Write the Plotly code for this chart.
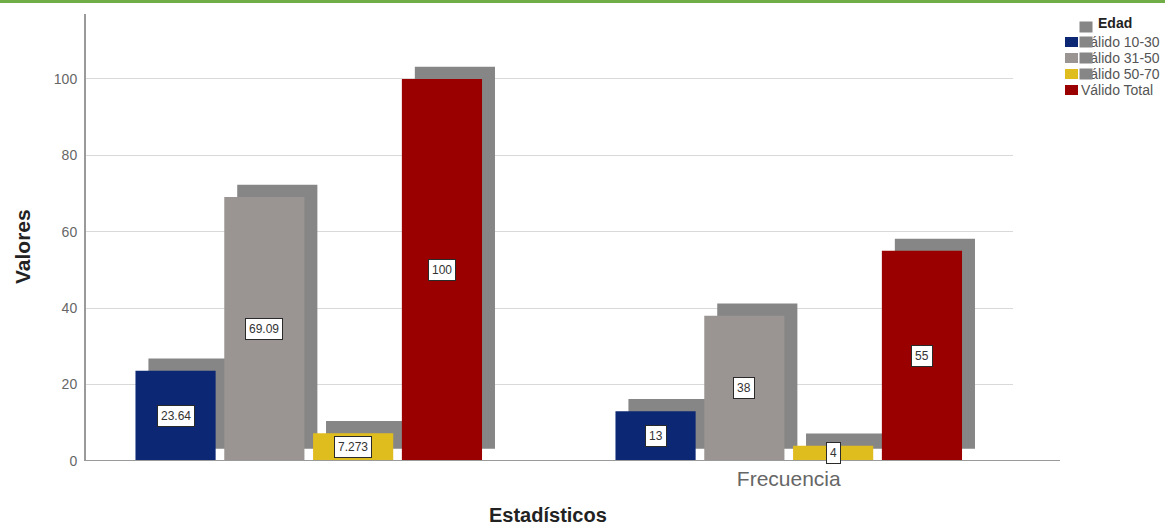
import plotly.graph_objects as go

# ---- data ----
categories = ["Porcentaje", "Frecuencia"]
tick_labels = ["", "Frecuencia"]
series_names = ["Válido 10-30", "Válido 31-50", "Válido 50-70", "Válido Total"]
values_porcentaje = [23.64, 69.09, 7.273, 100]
values_frecuencia = [13, 38, 4, 55]
label_porcentaje = ["23.64", "69.09", "7.273", "100"]
label_frecuencia = ["13", "38", "4", "55"]
y_ticks = [0, 20, 40, 60, 80, 100]
legend_title = "Edad"
x_title = "Estadísticos"
y_title = "Valores"

colors = ["#0c2874", "#9a9492", "#e0bd1f", "#9b0000"]
shadow_color = "#868686"
FONT = "Liberation Sans, Arial, sans-serif"

# ---- geometry (styles) ----
step = 0.185
bar_w = 0.167
shadow_dx = 0.027
shadow_dy = 3.2

W, H = 1165, 528
ml, mr, mt, mb = 86, 152, 14, 67
pw, ph = W - ml - mr, H - mt - mb


def px_x(px):
    return (px - ml) / pw


def px_y(py):
    return 1 - (py - mt) / ph


fig = go.Figure()
series_vals = list(zip(values_porcentaje, values_frecuencia))
series_lbls = list(zip(label_porcentaje, label_frecuencia))

# shadows first (behind everything)
for i, name in enumerate(series_names):
    off = (i - 1.5) * step
    xs = [c + off + shadow_dx for c in range(len(categories))]
    fig.add_trace(go.Bar(x=xs, y=list(series_vals[i]), base=shadow_dy, width=bar_w,
                         marker=dict(color=shadow_color, line=dict(width=0)),
                         showlegend=False, hoverinfo="skip"))
# front bars
for i, name in enumerate(series_names):
    off = (i - 1.5) * step
    xs = [c + off for c in range(len(categories))]
    fig.add_trace(go.Bar(x=xs, y=list(series_vals[i]), width=bar_w, name=name,
                         marker=dict(color=colors[i], line=dict(width=0)), showlegend=False))
    for c, (v, t) in enumerate(zip(series_vals[i], series_lbls[i])):
        fig.add_annotation(x=c + off, y=v / 2, text=t, showarrow=False,
                           font=dict(family=FONT, size=12, color="#333"),
                           bgcolor="white", bordercolor="#2a2a2a", borderwidth=1, borderpad=3)

left = -(308.75 - ml) / 480
right = left + pw / 480

fig.update_layout(
    width=W, height=H, autosize=False,
    margin=dict(l=ml, r=mr, t=mt, b=mb, autoexpand=False),
    paper_bgcolor="white", plot_bgcolor="white",
    barmode="overlay",
    showlegend=False,
    font=dict(family=FONT, color="#333"),
    xaxis=dict(range=[left, right], tickvals=list(range(len(categories))), ticktext=tick_labels,
               showgrid=False, zeroline=False, showline=False, ticks="", automargin=False,
               ticklabelstandoff=3,
               tickfont=dict(size=21, color="#666")),
    yaxis=dict(range=[0, 117], tickvals=y_ticks, showgrid=True, gridcolor="#d9d9d9",
               zeroline=False, showline=True, linecolor="#9a9a9a", linewidth=2, automargin=False,
               ticks="", ticklabelstandoff=4, tickfont=dict(size=14, color="#666")),
)

# axis titles (placed as in the original)
fig.add_annotation(xref="paper", yref="paper", x=px_x(22), y=px_y(247), xanchor="center",
                   yanchor="middle", text="<b>" + y_title + "</b>", textangle=-90,
                   showarrow=False, font=dict(family=FONT, size=21, color="#222"))
fig.add_annotation(xref="paper", yref="paper", x=px_x(548), y=px_y(527), xanchor="center",
                   yanchor="bottom", text="<b>" + x_title + "</b>", borderpad=0,
                   showarrow=False, font=dict(family=FONT, size=20, color="#222"))

# baseline extending beyond gridlines
fig.add_shape(type="line", xref="paper", yref="y", x0=0, x1=px_x(1060), y0=0, y1=0,
              line=dict(color="#9a9a9a", width=2))
# top green rule
fig.add_shape(type="rect", xref="paper", yref="paper", x0=px_x(0), x1=px_x(W),
              y0=px_y(3), y1=px_y(0), line=dict(width=0), fillcolor="#70ad47")

# ---- legend (SPSS style, with shadow swatches) ----
row_y = [42, 58, 74, 90]
fig.add_annotation(xref="paper", yref="paper", x=px_x(1096), y=px_y(23), xanchor="left",
                   yanchor="middle", text="<b>" + legend_title + "</b>", showarrow=False,
                   font=dict(family=FONT, size=14, color="#222"))
for i, name in enumerate(series_names):
    fig.add_annotation(xref="paper", yref="paper", x=px_x(1079), y=px_y(row_y[i]), xanchor="left",
                       yanchor="middle", text=name, showarrow=False,
                       font=dict(family=FONT, size=14, color="#555"))
    fig.add_shape(type="rect", xref="paper", yref="paper", x0=px_x(1065), x1=px_x(1078),
                  y0=px_y(row_y[i] + 5), y1=px_y(row_y[i] - 5), line=dict(width=0),
                  fillcolor=colors[i])
# shadow swatches (drawn over the legend text as in the original)
shadow_rows = [27, 42, 58, 74]
for yy in shadow_rows:
    fig.add_annotation(xref="paper", yref="paper", x=px_x(1079), y=px_y(yy), xanchor="left",
                       yanchor="middle", text=" ", width=12, height=10, bgcolor=shadow_color,
                       borderpad=0, showarrow=False, font=dict(size=8))

fig.write_html("out.html", config={"responsive": False})
